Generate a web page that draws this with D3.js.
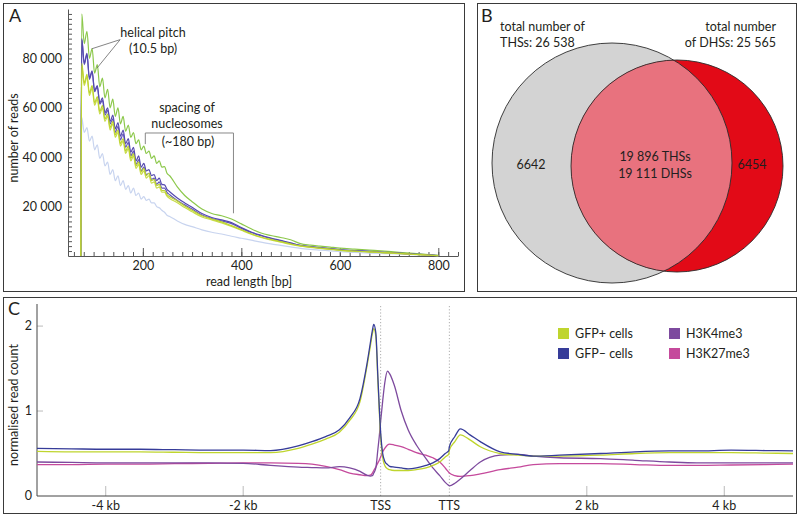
<!DOCTYPE html>
<html><head><meta charset="utf-8">
<script src="https://cdn.jsdelivr.net/npm/d3@7/dist/d3.min.js"></script>
<style>
body{margin:0;background:#fff}
svg{display:block}
text{font-family:Lato,"Open Sans",sans-serif;fill:#231f20}
</style>
</head><body>
<svg id="fig" width="800" height="518"></svg>
<script>
// ---------------- DATA ----------------
// Panel A: read length distribution (values in thousands of reads)
const readLength = [74,76,81,86.5,91.5,97,102,107.5,112.5,118,123,128.5,133.5,139,144,149.5,154.5,160,165,170.5,175.5,181,186,191.5,196.5,202,207,212.5,217.5,223,228,233.5,238.5,244,249,254.5,
  270,285,300,320,340,360,380,400,420,440,460,480,500,520,540,560,580,600,630,660,690,720,750,780,800];
const readsGreen = [0,98,86,91,80,84,74,77.5,68.5,72,64,67.5,60,63.5,56.5,60,53.5,56.5,50.5,53,48,50,45.5,47,43,44.5,41.5,42.5,39.5,40.5,37.5,38.5,36,36.2,33.5,32.5,
  28,24.5,22,19,17.2,16.3,15,13,11,9.3,8.3,7.5,6.6,5,4.4,4,3.6,3.2,2.8,2.4,2.0,1.5,1.1,0.6,0.3];
const readsPurple1 = [0,88,78,82,72,75,67,69,62,64,58,60,54.5,57,51.5,54,48.5,51,45.5,47.5,42,44,38.5,40.5,36,37.5,34.5,35,32.5,33,30.5,31.5,29,28.8,27,26,
  23.5,21.5,19.7,17.2,15.6,14.6,13.5,11.5,9.7,8.4,7.3,6.3,5.3,4.3,3.8,3.4,3.0,2.6,2.2,1.9,1.5,1.2,0.8,0.5,0.2];
const readsPurple2 = [0,87.5,77.5,81.5,71.5,74.5,66.5,68.5,61.5,63,57,59,53.5,55.5,50,52.5,47,49.5,44,46,40.5,42.5,37,39,34.5,36,33,33.5,31,31.5,29,30,27.5,27.5,25.8,24.8,
  22.5,20.7,19,16.6,15.2,14.2,13.1,11.2,9.5,8.2,7.1,6.1,5.1,4.2,3.7,3.3,2.9,2.5,2.1,1.8,1.4,1.1,0.7,0.4,0.1];
const readsYellow1 = [0,78,70,73.5,66,69,62,64.5,58.5,61,55.5,57.5,52,54.5,49,51,45.5,47.5,42.5,44.5,39.5,41.5,36.5,38,34,35.5,32.5,33.5,30.5,31,28.5,29,26.5,26.5,24.8,24,
  22.3,20.2,18.5,16.3,15,13.8,12.3,10.7,9,7.7,6.7,5.8,4.9,4.1,3.6,3.2,2.8,2.4,2.0,1.7,1.4,1.1,0.7,0.4,0.1];
const readsYellow2 = [0,77,69,72.5,65,68,61,63.5,57.5,60,54.5,56.5,51,53.5,48,50,44.5,46.5,41.5,43.5,38.5,40.5,35.5,37,33,34.5,31.5,32.5,29.5,30,27.5,28,25.8,25.8,24.2,23.3,
  21.6,19.6,17.9,15.8,14.6,13.4,12.0,10.4,8.8,7.5,6.5,5.6,4.7,4.0,3.5,3.1,2.7,2.3,1.9,1.6,1.3,1.0,0.6,0.3,0.1];
const readsPale = [0,56,50,52,46.5,48.5,43,45,39.5,41.5,36.5,38,33,35,30.5,32.5,28.5,30.5,27,28.5,25.5,27.5,24.5,25.5,23,24,22.5,23,21.5,21.5,20,19.5,18.5,17.7,16.5,16,
  14.2,12.8,11.9,10.6,9.6,8.9,8.0,7.2,6.4,5.6,4.9,4.3,3.7,3.1,2.7,2.4,2.1,1.8,1.5,1.2,1.0,0.8,0.5,0.3,0.1];
const xTicksA = [200,400,600,800];
const xTickLabelsA = ["200","400","600","800"];
const yTicksA = [20,40,60,80];
const yTickLabelsA = ["20 000","40 000","60 000","80 000"];
// annotation anchors (data units: bp, thousand reads)
const pitchPeaks = [[96.4,83.9],[106.6,76]];
const pitchAnchor = [153.9,87.6];
const nucBracket = [205,384]; // bp

// Panel B: Venn counts
const vennLabels = ["total number of","THSs: 26 538","total number","of DHSs: 25 565"];
const thsOnly = 6642, dhsOnly = 6454;
const sharedLabels = ["19 896 THSs","19 111 DHSs"];

// Panel C: metagene profile (position: kb upstream <0, gene body 0..1, kb downstream of TTS = pos-1)
const metaPos = [-5,-4.5,-4,-3.5,-3,-2.5,-2,-1.6,-1.2,-1.0,-0.8,-0.6,-0.45,-0.3,-0.2,-0.15,-0.12,-0.1,-0.07,-0.04,-0.02,0,0.03,0.06,0.1,0.13,0.2,0.3,0.4,0.52,0.66,0.76,0.86,0.94,0.99,1.0,1.08,1.16,1.3,1.45,1.74,2.0,2.22,2.6,3.2,3.7,4.2,4.6,5.1,5.6,6];
const gfpMinus = [0.56,0.555,0.55,0.55,0.545,0.54,0.54,0.535,0.59,0.64,0.70,0.78,0.92,1.15,1.55,1.80,1.95,2.02,1.92,1.40,1.05,0.75,0.50,0.41,0.37,0.35,0.34,0.33,0.32,0.33,0.36,0.39,0.44,0.50,0.53,0.58,0.70,0.79,0.72,0.64,0.52,0.49,0.47,0.48,0.50,0.52,0.53,0.53,0.54,0.535,0.53];
const gfpPlus  = [0.525,0.52,0.52,0.52,0.515,0.51,0.51,0.51,0.56,0.61,0.67,0.75,0.89,1.11,1.52,1.76,1.91,1.97,1.88,1.35,1.0,0.70,0.45,0.36,0.32,0.31,0.30,0.30,0.30,0.31,0.33,0.36,0.40,0.46,0.49,0.54,0.64,0.72,0.66,0.58,0.50,0.48,0.47,0.47,0.48,0.50,0.51,0.51,0.51,0.505,0.50];
const h3k4me3  = [0.40,0.395,0.39,0.39,0.39,0.39,0.385,0.36,0.34,0.335,0.33,0.345,0.33,0.29,0.245,0.235,0.24,0.27,0.33,0.55,0.70,0.88,1.12,1.33,1.47,1.44,1.30,1.0,0.78,0.60,0.44,0.33,0.24,0.16,0.125,0.12,0.15,0.20,0.30,0.40,0.48,0.49,0.47,0.45,0.44,0.42,0.40,0.39,0.39,0.39,0.39];
const h3k27me3 = [0.37,0.37,0.375,0.375,0.38,0.385,0.39,0.39,0.385,0.375,0.35,0.31,0.27,0.25,0.24,0.245,0.27,0.30,0.34,0.39,0.42,0.46,0.52,0.56,0.60,0.61,0.60,0.58,0.55,0.51,0.48,0.45,0.40,0.33,0.28,0.27,0.24,0.23,0.24,0.26,0.31,0.34,0.37,0.38,0.38,0.37,0.36,0.36,0.365,0.37,0.375];
const seriesC = ["GFP+ cells","GFP\u2013 cells","H3K4me3","H3K27me3"];
const colorsC = ["#bfd52e","#363c99","#7d4a9e","#c54a9c"];
const xTicksC = [-4,-2,0,1,3,5];
const xTickLabelsC = ["-4 kb","-2 kb","TSS","TTS","2 kb","4 kb"];
const yTicksC = [0,1,2];
const yTickLabelsC = ["0","1","2"];

// ---------------- DRAW ----------------
const FS = 12.5;
const svg = d3.select("#fig");
const frame = "#3a3a3a";
function box(x,y,w,h){svg.append("rect").attr("x",x).attr("y",y).attr("width",w).attr("height",h).attr("fill","none").attr("stroke",frame).attr("stroke-width",1);}
box(3.5,3.5,461,288); box(477.5,3.5,319,288); box(3.5,297.5,793,216);
function panelLabel(t,x,y){svg.append("text").attr("x",x).attr("y",y).attr("font-size",18).text(t);}
panelLabel("A",9,22); panelLabel("B",481,22); panelLabel("C",8,315);

// ---- Panel A ----
const gA = svg.append("g");
const xA = d3.scaleLinear().domain([48,840]).range([68,458]);
const yA = d3.scaleLinear().domain([0,100]).range([256,9]);
const axisCol = "#555";
gA.append("g").attr("transform","translate(0,256)")
  .call(d3.axisBottom(xA).tickValues(d3.range(60,841,20)).tickSize(-4).tickSizeOuter(0).tickFormat(""))
  .call(g=>g.selectAll("line").attr("stroke",axisCol)).call(g=>g.select(".domain").attr("stroke",axisCol));
gA.append("g").attr("transform","translate(0,256)")
  .call(d3.axisBottom(xA).tickValues(xTicksA).tickSize(-8).tickSizeOuter(0).tickFormat((d,i)=>xTickLabelsA[i]))
  .call(g=>{g.select(".domain").remove();g.selectAll("line").attr("stroke",axisCol);
    g.selectAll("text").attr("font-size",FS).attr("font-family","Lato").attr("fill","#231f20").attr("y",5);});
gA.append("g").attr("transform","translate(68,0)")
  .call(d3.axisLeft(yA).tickValues(d3.range(2,99,2)).tickSize(-4).tickSizeOuter(0).tickFormat(""))
  .call(g=>g.selectAll("line").attr("stroke",axisCol)).call(g=>g.select(".domain").attr("stroke",axisCol));
gA.append("g").attr("transform","translate(68,0)")
  .call(d3.axisLeft(yA).tickValues(yTicksA).tickSize(0).tickFormat((d,i)=>yTickLabelsA[i]))
  .call(g=>{g.select(".domain").remove();g.selectAll("text").attr("font-size",FS).attr("font-family","Lato").attr("fill","#231f20").attr("x",-6);});
gA.append("text").attr("x",249).attr("y",286).attr("text-anchor","middle").attr("font-size",FS).text("read length [bp]");
gA.append("text").attr("transform","translate(18,138) rotate(-90)").attr("text-anchor","middle").attr("font-size",FS).text("number of reads");

const lineA = d3.line().x((d,i)=>xA(readLength[i])).y(d=>yA(d)).curve(d3.curveMonotoneX);
const seriesA = [
  [readsPale,"#c8d4ef"],[readsGreen,"#8cc84b"],[readsPurple2,"#6257b8"],[readsPurple1,"#5549b0"],
  [readsYellow2,"#c9dc4a"],[readsYellow1,"#bcd32f"]];
seriesA.forEach(([vals,col])=>{
  gA.append("path").attr("d",lineA(vals)).attr("fill","none").attr("stroke",col).attr("stroke-width",1.2);
});
const annCol = "#666";
pitchPeaks.forEach(p=>{
  gA.append("line").attr("x1",xA(pitchAnchor[0])).attr("y1",yA(pitchAnchor[1]))
    .attr("x2",xA(p[0])).attr("y2",yA(p[1])).attr("stroke",annCol).attr("stroke-width",0.8);
});
gA.append("text").attr("x",153).attr("y",37).attr("text-anchor","middle").attr("font-size",FS).text("helical pitch");
gA.append("text").attr("x",153).attr("y",53).attr("text-anchor","middle").attr("font-size",FS).text("(10.5 bp)");
gA.append("text").attr("x",187).attr("y",112).attr("text-anchor","middle").attr("font-size",FS).text("spacing of");
gA.append("text").attr("x",187).attr("y",128).attr("text-anchor","middle").attr("font-size",FS).text("nucleosomes");
gA.append("text").attr("x",188).attr("y",146).attr("text-anchor","middle").attr("font-size",FS).text("(~180 bp)");
gA.append("path").attr("fill","none").attr("stroke","#888").attr("stroke-width",1)
  .attr("d",`M${xA(nucBracket[0])},${yA(45.3)}V${yA(49.8)}H${xA(nucBracket[1])}V${yA(17.3)}`);

// ---- Panel B ----
const gB = svg.append("g");
const L = {cx:612,cy:163,r:120}, R = {cx:677,cy:166,r:106};
svg.append("defs").append("clipPath").attr("id","clipL").append("circle").attr("cx",L.cx).attr("cy",L.cy).attr("r",L.r);
gB.append("circle").attr("cx",L.cx).attr("cy",L.cy).attr("r",L.r).attr("fill","#d3d3d3");
gB.append("circle").attr("cx",R.cx).attr("cy",R.cy).attr("r",R.r).attr("fill","#e20a17");
gB.append("circle").attr("cx",R.cx).attr("cy",R.cy).attr("r",R.r).attr("fill","#e8727e").attr("clip-path","url(#clipL)");
[L,R].forEach(c=>gB.append("circle").attr("cx",c.cx).attr("cy",c.cy).attr("r",c.r).attr("fill","none").attr("stroke","#2b2b2b").attr("stroke-width",0.9));
gB.append("text").attr("x",500).attr("y",31).attr("font-size",FS).text(vennLabels[0]);
gB.append("text").attr("x",500).attr("y",47).attr("font-size",FS).text(vennLabels[1]);
gB.append("text").attr("x",776).attr("y",31).attr("text-anchor","end").attr("font-size",FS).text(vennLabels[2]);
gB.append("text").attr("x",776).attr("y",47).attr("text-anchor","end").attr("font-size",FS).text(vennLabels[3]);
gB.append("text").attr("x",531).attr("y",169).attr("text-anchor","middle").attr("font-size",FS).text(thsOnly);
gB.append("text").attr("x",752).attr("y",169).attr("text-anchor","middle").attr("font-size",FS).text(dhsOnly);
gB.append("text").attr("x",655).attr("y",161).attr("text-anchor","middle").attr("font-size",FS).text(sharedLabels[0]);
gB.append("text").attr("x",655).attr("y",178).attr("text-anchor","middle").attr("font-size",FS).text(sharedLabels[1]);

// ---- Panel C ----
const gC = svg.append("g");
const xC = d3.scaleLinear().domain([-5,6]).range([37,793]);
const yC = d3.scaleLinear().domain([0,2.26]).range([496,304]);
xTicksC.forEach((t,i)=>{
  const isSite = (xTickLabelsC[i]==="TSS"||xTickLabelsC[i]==="TTS");
  gC.append("line").attr("x1",xC(t)).attr("x2",xC(t)).attr("y1",496).attr("y2",isSite?304:486)
    .attr("stroke",isSite?"#999":"#bbb").attr("stroke-width",isSite?0.8:1).attr("stroke-dasharray",isSite?"1.2,2":null);
  gC.append("text").attr("x",xC(t)).attr("y",510).attr("text-anchor","middle").attr("font-size",FS).text(xTickLabelsC[i]);
});
yTicksC.forEach((t,i)=>{
  if(t>0) gC.append("line").attr("x1",37).attr("x2",43).attr("y1",yC(t)).attr("y2",yC(t)).attr("stroke","#bbb");
  gC.append("text").attr("x",32).attr("y",yC(t)+4).attr("text-anchor","end").attr("font-size",FS).text(yTickLabelsC[i]);
});
gC.append("line").attr("x1",37).attr("x2",37).attr("y1",304).attr("y2",496).attr("stroke","#444");
gC.append("line").attr("x1",37).attr("x2",793).attr("y1",496).attr("y2",496).attr("stroke","#444");
gC.append("text").attr("transform","translate(18,405) rotate(-90)").attr("text-anchor","middle").attr("font-size",FS).text("normalised read count");
const lineC = d3.line().x((d,i)=>xC(metaPos[i])).y(d=>yC(d)).curve(d3.curveMonotoneX);
[[h3k27me3,3],[h3k4me3,2],[gfpPlus,0],[gfpMinus,1]].forEach(([vals,k])=>{
  gC.append("path").attr("d",lineC(vals)).attr("fill","none").attr("stroke",colorsC[k]).attr("stroke-width",1.3);
});
const legPos = [[558,328],[558,348],[669,328],[669,348]];
seriesC.forEach((s,i)=>{
  gC.append("rect").attr("x",legPos[i][0]).attr("y",legPos[i][1]).attr("width",11).attr("height",11).attr("fill",colorsC[i]);
  gC.append("text").attr("x",legPos[i][0]+17).attr("y",legPos[i][1]+10).attr("font-size",FS).text(s);
});
</script>
</body></html>
